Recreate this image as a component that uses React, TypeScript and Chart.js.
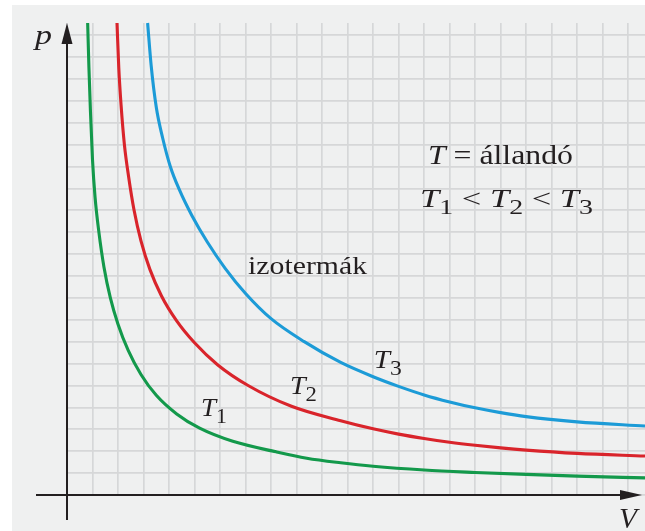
import React, { useEffect, useRef } from "react";
import { Chart, registerables } from "chart.js";

Chart.register(...registerables);

// Isotherm T1 (green): volume (grid units) and pressure (grid units)
const greenV = [0.81, 0.86, 0.92, 1.0, 1.1, 1.25, 1.45, 1.7, 2.0, 2.4, 2.9, 3.5, 4.3, 5.2, 6.5, 8.2, 9.4, 10.73, 12, 14, 16, 18, 20, 22.66];
const greenP = [21.55, 19.5, 17.5, 15.3, 13.6, 12.0, 10.4, 9.0, 7.8, 6.6, 5.5, 4.55, 3.7, 3.05, 2.45, 1.97, 1.68, 1.47, 1.31, 1.14, 1.03, 0.94, 0.86, 0.78];

// Isotherm T2 (red)
const redV = [1.96, 2.03, 2.12, 2.25, 2.42, 2.63, 2.9, 3.25, 3.7, 4.3, 5.0, 5.9, 7.1, 8.8, 10.73, 12, 13, 14, 15, 16, 17, 18, 20, 22.66];
const redP = [21.55, 19.5, 17.8, 16.0, 14.5, 13.0, 11.6, 10.3, 9.1, 7.95, 6.95, 5.95, 5.0, 4.05, 3.39, 3.02, 2.78, 2.58, 2.41, 2.27, 2.15, 2.05, 1.9, 1.78];

// Isotherm T3 (blue)
const blueV = [3.16, 3.3, 3.5, 3.75, 4.05, 4.4, 4.9, 5.5, 6.2, 7.0, 8.0, 9.3, 10.73, 12, 13, 14, 15, 16, 17, 18, 20, 22.66];
const blueP = [21.55, 19.6, 17.7, 16.3, 15.0, 13.95, 12.75, 11.55, 10.35, 9.2, 8.05, 7.0, 6.05, 5.4, 4.96, 4.57, 4.25, 3.98, 3.76, 3.58, 3.34, 3.15];

const seriesNames = ["T1", "T2", "T3"];

// Axis ranges (grid units)
const xMax = 22.66;
const yMax = 21.55;

type Seg = { t: string; italic?: boolean; sub?: boolean };

// Text annotations, anchored in data coordinates (left x, baseline y)
const annotations: { segs: Seg[]; x: number; y: number; size: number; width: number }[] = [
  { segs: [{ t: "T", italic: true }, { t: "1", sub: true }], x: 5.25, y: 3.61, size: 26, width: 26 },
  { segs: [{ t: "T", italic: true }, { t: "2", sub: true }], x: 8.74, y: 4.61, size: 26, width: 27 },
  { segs: [{ t: "T", italic: true }, { t: "3", sub: true }], x: 12.03, y: 5.8, size: 26, width: 28 },
  { segs: [{ t: "izotermák" }], x: 7.1, y: 10.09, size: 25, width: 119 },
  { segs: [{ t: "T", italic: true }, { t: " = állandó" }], x: 14.15, y: 15.11, size: 27, width: 145 },
  {
    segs: [
      { t: "T", italic: true }, { t: "1", sub: true }, { t: " < " },
      { t: "T", italic: true }, { t: "2", sub: true }, { t: " < " },
      { t: "T", italic: true }, { t: "3", sub: true },
    ],
    x: 13.84, y: 13.15, size: 26, width: 173,
  },
];

const FONT = '"Liberation Serif", "Times New Roman", Times, serif';
const INK = "#231f20";

function drawRich(ctx: CanvasRenderingContext2D, segs: Seg[], x: number, y: number, size: number, targetW?: number) {
  const fontOf = (s: Seg) => `${s.italic ? "italic " : ""}${s.sub ? Math.round(size * 0.8) : size}px ${FONT}`;
  let w = 0;
  for (const s of segs) {
    ctx.font = fontOf(s);
    w += ctx.measureText(s.t).width;
  }
  const sx = targetW ? targetW / w : 1;
  ctx.save();
  ctx.translate(x, y);
  ctx.scale(sx, 1);
  ctx.fillStyle = INK;
  ctx.textBaseline = "alphabetic";
  ctx.textAlign = "left";
  let cx = 0;
  for (const s of segs) {
    ctx.font = fontOf(s);
    ctx.fillText(s.t, cx, s.sub ? size * 0.26 : 0);
    cx += ctx.measureText(s.t).width;
  }
  ctx.restore();
}

export default function App() {
  const ref = useRef<HTMLCanvasElement>(null);

  useEffect(() => {
    document.body.style.margin = "0";
    const canvas = ref.current!;
    const pts = (xs: number[], ys: number[]) => xs.map((x, i) => ({ x, y: ys[i] }));

    const bgPlugin = {
      id: "bg",
      beforeDraw(c: any) {
        const ctx = c.ctx as CanvasRenderingContext2D;
        ctx.save();
        ctx.fillStyle = "#ffffff";
        ctx.fillRect(0, 0, c.width, c.height);
        ctx.fillStyle = "#eff0f0";
        ctx.fillRect(12, 5, c.width - 12, c.height - 5);
        ctx.restore();
      },
    };

    const overlayPlugin = {
      id: "overlay",
      afterDraw(c: any) {
        const ctx = c.ctx as CanvasRenderingContext2D;
        const xs = c.scales.x;
        const ys = c.scales.y;
        const area = c.chartArea;
        const ox = xs.getPixelForValue(0);
        const oy = ys.getPixelForValue(0);
        ctx.save();
        ctx.strokeStyle = INK;
        ctx.fillStyle = INK;
        ctx.lineWidth = 2;
        // y axis
        ctx.beginPath();
        ctx.moveTo(ox, oy + 25);
        ctx.lineTo(ox, area.top + 15);
        ctx.stroke();
        ctx.beginPath();
        ctx.moveTo(ox, area.top);
        ctx.lineTo(ox - 5.5, area.top + 21);
        ctx.lineTo(ox + 5.5, area.top + 21);
        ctx.closePath();
        ctx.fill();
        // x axis
        const tip = area.right - 3;
        ctx.beginPath();
        ctx.moveTo(ox - 31, oy);
        ctx.lineTo(tip - 15, oy);
        ctx.stroke();
        ctx.beginPath();
        ctx.moveTo(tip, oy);
        ctx.lineTo(tip - 22, oy - 5);
        ctx.lineTo(tip - 22, oy + 5);
        ctx.closePath();
        ctx.fill();
        ctx.restore();

        // axis titles
        drawRich(ctx, [{ t: "p", italic: true }], ox - 32, area.top + 21, 28, 17);
        drawRich(ctx, [{ t: "V", italic: true }], area.right - 26, oy + 33, 29, 18);

        // annotations
        for (const a of annotations) {
          drawRich(ctx, a.segs, xs.getPixelForValue(a.x), ys.getPixelForValue(a.y), a.size, a.width);
        }
      },
    };

    const lineStyle = {
      borderWidth: 3.1,
      pointRadius: 0,
      fill: false,
      cubicInterpolationMode: "monotone" as const,
      clip: false as any,
    };

    const chart = new Chart(canvas, {
      type: "line",
      data: {
        datasets: [
          { label: seriesNames[0], data: pts(greenV, greenP), borderColor: "#13994b", ...lineStyle },
          { label: seriesNames[1], data: pts(redV, redP), borderColor: "#d9242b", ...lineStyle },
          { label: seriesNames[2], data: pts(blueV, blueP), borderColor: "#1c9bd7", ...lineStyle },
        ],
      },
      options: {
        animation: false,
        responsive: false,
        devicePixelRatio: 1,
        layout: { padding: { left: 67, top: 23, right: 0, bottom: 36 } },
        plugins: { legend: { display: false }, tooltip: { enabled: false } },
        scales: {
          x: {
            type: "linear",
            min: 0,
            max: xMax,
            ticks: { display: false, stepSize: 1, autoSkip: false, includeBounds: false },
            grid: { color: "#d6d7d8", lineWidth: 1.7, drawTicks: false },
            border: { display: false },
          },
          y: {
            type: "linear",
            min: 0,
            max: yMax,
            ticks: { display: false, stepSize: 1, autoSkip: false, includeBounds: false },
            grid: { color: "#d6d7d8", lineWidth: 1.7, drawTicks: false },
            border: { display: false },
          },
        },
      },
      plugins: [bgPlugin, overlayPlugin],
    });

    return () => chart.destroy();
  }, []);

  return (
    <div style={{ width: 645, height: 531 }}>
      <canvas ref={ref} width={645} height={531} style={{ display: "block" }} />
    </div>
  );
}
